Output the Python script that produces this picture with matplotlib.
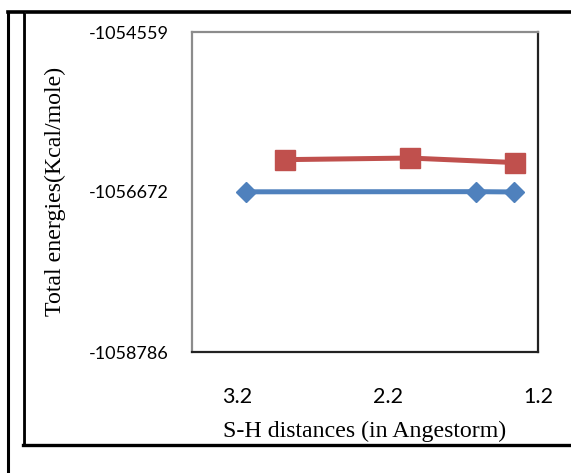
import matplotlib
matplotlib.use("Agg")
import matplotlib.pyplot as plt
from matplotlib.lines import Line2D

# S-H distance (Angstrom) and total energy (kcal/mol)
dist_blue = [3.14, 1.61, 1.36]
energy_blue = [-1056670, -1056668, -1056672]
dist_red = [2.88, 2.05, 1.35]
energy_red = [-1056245, -1056224, -1056284]

xticks = [3.2, 2.2, 1.2]
yticks = [-1058786, -1056672, -1054559]

W, H = 571, 473
fig = plt.figure(figsize=(W / 100, H / 100), dpi=100)

def px(x0, y0, x1, y1, **kw):
    # line in pixel coords (origin top left)
    fig.add_artist(Line2D([x0 / W, x1 / W], [1 - y0 / H, 1 - y1 / H],
                          transform=fig.transFigure, **kw))

# outer frame lines
px(8, 12, 8, 473, color="black", lw=2.2)
px(8, 12, 571, 12, color="black", lw=2.6)
px(25.5, 13, 25.5, 446, color="#9a9a9a", lw=1.2)
px(24, 13, 24, 445, color="black", lw=2)
px(23, 445, 571, 445, color="black", lw=2.4)

ax = fig.add_axes([192 / W, 1 - 352 / H, 346 / W, 320 / H])
ax.plot(dist_blue, energy_blue, color="#4F81BD", lw=3.6, marker="D",
        markersize=10.5, solid_capstyle="round")
ax.plot(dist_red, energy_red, color="#C0504D", lw=3.6, marker="s",
        markersize=14, solid_capstyle="round")

ax.set_xlim(3.5, 1.2)
ax.set_ylim(-1058786, -1054559)
ax.set_xticks(xticks)
ax.set_xticklabels([f"{t:.1f}" for t in xticks], fontsize=15.5, family="Lato")
ax.set_yticks(yticks)
ax.set_yticklabels([str(t) for t in yticks], fontsize=13, family="Lato")
ax.tick_params(length=0)
ax.tick_params(axis="y", pad=17)
ax.tick_params(axis="x", pad=25)

for s in ["left", "top"]:
    ax.spines[s].set_color("#8c8c8c")
    ax.spines[s].set_linewidth(1.6)
for s in ["right", "bottom"]:
    ax.spines[s].set_color("#222222")
    ax.spines[s].set_linewidth(1.6)

fig.text(365 / W, 1 - 436.5 / H, "S-H distances (in Angestorm)", ha="center",
         va="baseline", fontsize=17.2, family="Liberation Serif")
fig.text(55 / W, 1 - 191 / H, "Total energies(Kcal/mole)", ha="center",
         va="center", rotation=90, fontsize=17.2, family="Liberation Serif")

fig.savefig("out.png", dpi=100)
